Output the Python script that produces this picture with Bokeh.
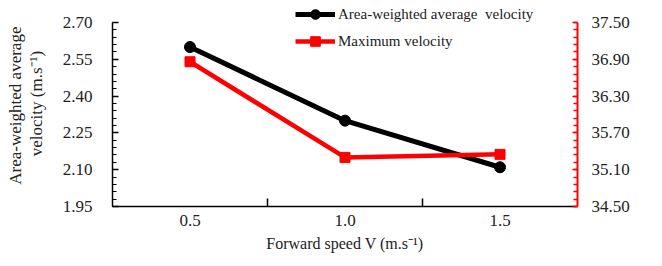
from bokeh.plotting import figure
from bokeh.models import Range1d, LinearAxis, FixedTicker, NumeralTickFormatter, Label, Legend, LegendItem
from bokeh.embed import file_html
from bokeh.resources import INLINE
import math

speed = [0.5, 1.0, 1.5]
area_avg = [2.60, 2.30, 2.11]
max_vel = [36.86, 35.30, 35.35]
left_ticks = [1.95, 2.10, 2.25, 2.40, 2.55, 2.70]
right_ticks = [34.50, 35.10, 35.70, 36.30, 36.90, 37.50]
x_labels = {0.5: "0.5", 1.0: "1.0", 1.5: "1.5"}

FONT = "Liberation Serif"
TXT = "#222222"

# layout: frame spans canvas y 0..206, axes drawn only over 22..206
FRAME_H = 206
AXIS_H = 184
l_lo, l_hi = left_ticks[0], left_ticks[-1]
r_lo, r_hi = right_ticks[0], right_ticks[-1]
l_top = l_lo + (l_hi - l_lo) * FRAME_H / AXIS_H
r_top = r_lo + (r_hi - r_lo) * FRAME_H / AXIS_H

p = figure(width=654, height=258, output_backend="svg", toolbar_location=None,
           x_range=Range1d(0.25, 1.75), y_range=Range1d(l_lo, l_top),
           min_border_left=112, min_border_right=77, min_border_top=0, min_border_bottom=52,
           x_axis_type=None, y_axis_type=None)
p.extra_y_ranges = {"r": Range1d(r_lo, r_top)}
p.outline_line_color = None
p.xgrid.visible = False
p.ygrid.visible = False
p.background_fill_color = "white"
p.border_fill_color = "white"

# bottom axis
xa = LinearAxis(ticker=FixedTicker(ticks=speed, minor_ticks=[0.75, 1.25]))
xa.major_label_overrides = x_labels
xa.major_tick_in = 0
xa.major_tick_out = 0
xa.minor_tick_in = 8
xa.minor_tick_out = 0
xa.minor_tick_line_color = "black"
xa.minor_tick_line_width = 1.5
xa.axis_line_width = 1.5
xa.axis_line_color = "black"
xa.major_label_text_font = FONT
xa.major_label_text_font_size = "17px"
xa.major_label_text_color = TXT
xa.major_label_standoff = 8
xa.axis_label = "Forward speed V (m.s⁻¹)"
xa.axis_label_text_font = FONT
xa.axis_label_text_font_size = "16px"
xa.axis_label_text_font_style = "normal"
xa.axis_label_text_color = TXT
xa.axis_label_standoff = 6
p.add_layout(xa, "below")

def minor_list(lo, hi, step):
    n = int(round((hi - lo) / step))
    return [lo + i * step for i in range(n + 1)]

ya = LinearAxis(ticker=FixedTicker(ticks=left_ticks, minor_ticks=minor_list(l_lo, l_hi, 0.03)))
ya.bounds = (l_lo, l_hi)
ya.formatter = NumeralTickFormatter(format="0.00")
ya.major_tick_in = 6
ya.major_tick_out = 0
ya.minor_tick_in = 4
ya.minor_tick_out = 0
ya.major_tick_line_width = 1.5
ya.minor_tick_line_width = 1.2
ya.axis_line_width = 1.5
ya.major_label_text_font = FONT
ya.major_label_text_font_size = "17px"
ya.major_label_text_color = TXT
ya.major_label_standoff = 20
ya.axis_label = "Area-weighted  average\nvelocity (m.s⁻¹)"
ya.axis_label_text_font = FONT
ya.axis_label_text_font_size = "17px"
ya.axis_label_text_font_style = "normal"
ya.axis_label_text_color = TXT
ya.axis_label_text_line_height = 1.1
ya.axis_label_standoff = 14
p.add_layout(ya, "left")

ra = LinearAxis(y_range_name="r", ticker=FixedTicker(ticks=right_ticks, minor_ticks=minor_list(r_lo, r_hi, 0.12)))
ra.bounds = (r_lo, r_hi)
ra.formatter = NumeralTickFormatter(format="0.00")
ra.major_tick_in = 5
ra.major_tick_out = 0
ra.minor_tick_in = 4
ra.minor_tick_out = 0
ra.major_tick_line_color = "red"
ra.minor_tick_line_color = "red"
ra.major_tick_line_width = 1.5
ra.minor_tick_line_width = 1.5
ra.axis_line_color = "red"
ra.axis_line_width = 2
ra.major_label_text_font = FONT
ra.major_label_text_font_size = "17px"
ra.major_label_text_color = TXT
ra.major_label_standoff = 14
p.add_layout(ra, "right")

rlab = Label(x=1.75, y=2.2435, x_offset=68, y_offset=0, angle=math.pi / 2,
             text="Maximum velocity  Vz (m.s⁻¹)", text_font=FONT, text_font_size="17px",
             text_color=TXT, text_align="center", text_baseline="middle")
p.add_layout(rlab)

l1 = p.line(speed, area_avg, line_color="black", line_width=5)
m1 = p.scatter(speed, area_avg, marker="circle", size=11, fill_color="black", line_color="black")
l2 = p.line(speed, max_vel, line_color="red", line_width=4.5, y_range_name="r")
m2 = p.scatter(speed, max_vel, marker="square", size=10, fill_color="red", line_color="red", y_range_name="r")

legend = Legend(items=[LegendItem(label="Area-weighted average  velocity", renderers=[l1, m1]),
                       LegendItem(label="Maximum velocity", renderers=[l2, m2])],
                location=(183, 153), background_fill_alpha=0, border_line_color=None,
                padding=0, margin=0, spacing=3, glyph_width=40, glyph_height=24,
                label_height=14, label_standoff=3, label_text_font=FONT,
                label_text_color=TXT, label_text_font_size="15px")
p.add_layout(legend)

open("out.html", "w").write(file_html(p, INLINE))
